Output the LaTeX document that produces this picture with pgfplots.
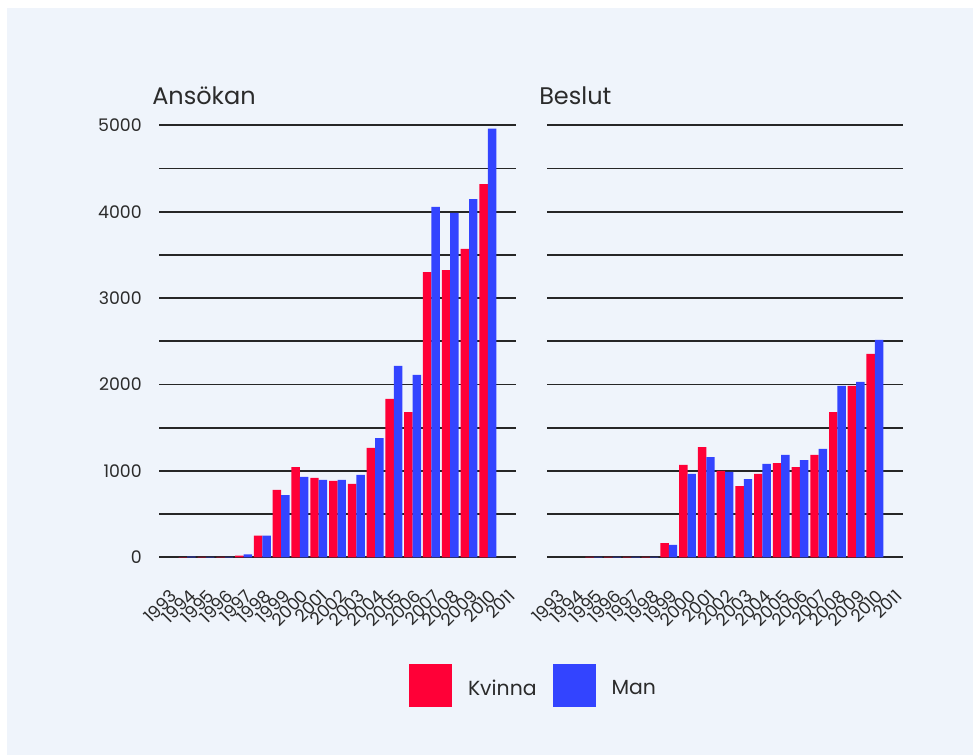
\documentclass[border=0pt]{standalone}
\usepackage{fontspec}
\setmainfont{Poppins}
\usepackage{pgfplots}
\pgfplotsset{compat=1.18}
\definecolor{bg}{HTML}{EFF4FB}
\definecolor{kv}{HTML}{FF0037}
\definecolor{mn}{HTML}{3344FF}
\definecolor{txt}{HTML}{2B2B2B}
\definecolor{gridc}{HTML}{262626}
\pgfplotsset{
  panel/.style={
    scale only axis, width=267.75pt, height=324pt,
    xmin=-0.5, xmax=18.5, ymin=0, ymax=5000,
    xtick={0,...,18},
    xticklabels={1993,1994,1995,1996,1997,1998,1999,2000,2001,2002,2003,2004,2005,2006,2007,2008,2009,2010,2011},
    ytick={0,1000,...,5000}, minor ytick={500,1500,...,4500},
    ymajorgrids, yminorgrids,
    major grid style={gridc, line width=1.45pt},
    minor grid style={gridc, line width=1.45pt},
    axis line style={draw=none},
    major tick length=0pt, minor tick length=0pt,
    scaled y ticks=false,
    /pgf/number format/1000 sep={},
    /pgf/number format/assume math mode=true,
    xticklabel style={yshift=-23pt, xshift=0.5pt, rotate=45, anchor=north east, inner sep=0pt,
      font=\fontsize{13}{14}\selectfont, text=txt},
    yticklabel style={anchor=east, inner sep=0pt, xshift=-12.75pt,
      font=\fontsize{13}{15}\selectfont, text=txt},
    title style={anchor=base west, inner sep=0pt, font=\fontsize{18}{21}\selectfont, text=txt},
  },
  sq/.style={legend image code/.code={\fill[##1] (0pt,-13.6pt) rectangle (32.25pt,18.6pt);}},
  kbar/.style={ybar, fill=kv, draw=none, bar width=0.45, bar shift=-0.225, sq},
  mbar/.style={ybar, fill=mn, draw=none, bar width=0.45, bar shift=0.225, sq},
}
\begin{document}
\begin{tikzpicture}
\fill[white] (0,0) rectangle (729.75pt,566.25pt);
\fill[bg] (5.25pt,0) rectangle (729.75pt,560.25pt);
\begin{axis}[panel, at={(119.25pt,148.275pt)}, anchor=south west,
  title={Ansökan}, title style={at={(axis description cs:-0.0196,1.0294)}},
  legend style={at={(axis description cs:0.7003,-0.2968)}, anchor=west,
    draw=none, fill=none, inner sep=0pt, outer sep=0pt, legend columns=2, column sep=12pt,
    nodes={inner sep=0pt, outer sep=0pt, text=txt}, font=\fontsize{15.3}{17}\selectfont}]
\addplot[kbar] coordinates {(1,2) (2,5) (3,5) (4,20) (5,250) (6,780) (7,1045) (8,920) (9,885) (10,850) (11,1265) (12,1835) (13,1680) (14,3300) (15,3325) (16,3570) (17,4320)};
\addlegendentry{Kvinna}
\addplot[mbar] coordinates {(1,8) (2,5) (3,6) (4,35) (5,250) (6,720) (7,930) (8,895) (9,895) (10,955) (11,1380) (12,2215) (13,2110) (14,4055) (15,3985) (16,4145) (17,4960)};
\addlegendentry{Man}
\end{axis}
\begin{axis}[panel, at={(410.25pt,148.275pt)}, anchor=south west, width=267pt,
  yticklabels={},
  title={Beslut}, title style={at={(axis description cs:-0.0225,1.0294)}}]
\addplot[kbar] coordinates {(2,5) (3,5) (4,5) (5,5) (6,165) (7,1070) (8,1275) (9,1000) (10,825) (11,965) (12,1090) (13,1045) (14,1185) (15,1680) (16,1985) (17,2355)};
\addplot[mbar] coordinates {(2,5) (3,5) (4,5) (5,5) (6,145) (7,965) (8,1160) (9,990) (10,905) (11,1080) (12,1185) (13,1125) (14,1255) (15,1985) (16,2030) (17,2515)};
\end{axis}
\pgfresetboundingbox
\path[use as bounding box] (0,0) rectangle (729.75pt,566.25pt);
\end{tikzpicture}
\end{document}
